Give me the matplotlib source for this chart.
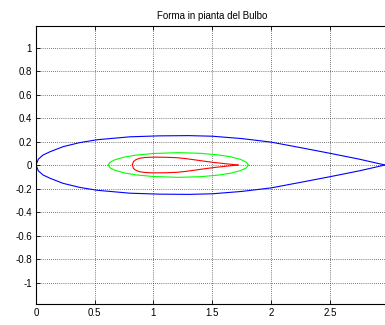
import matplotlib
matplotlib.use("Agg")
import matplotlib.pyplot as plt

# contorno esterno del bulbo (blu), meta' superiore / inferiore
blu_x = [0.0, 0.02, 0.06, 0.12, 0.23, 0.37, 0.52, 0.80, 1.05, 1.30, 1.50, 1.75, 2.00, 2.25, 2.50, 2.75, 2.97]
blu_sup = [0.0, 0.05, 0.085, 0.113, 0.156, 0.19, 0.215, 0.24, 0.248, 0.25, 0.245, 0.225, 0.195, 0.148, 0.10, 0.05, 0.0]
blu_inf = [-v for v in blu_sup]

# sezione intermedia (verde)
verde_x = [0.615, 0.63, 0.67, 0.75, 0.85, 1.00, 1.21, 1.40, 1.55, 1.65, 1.74, 1.79, 1.807]
verde_sup = [0.0, 0.024, 0.044, 0.067, 0.084, 0.098, 0.105, 0.0995, 0.086, 0.071, 0.048, 0.024, 0.0]
verde_inf = [-v for v in verde_sup]

# sezione interna (rosso)
rosso_x = [0.82, 0.83, 0.85, 0.88, 0.93, 1.00, 1.10, 1.20, 1.27, 1.35, 1.45, 1.52, 1.62, 1.72]
rosso_sup = [0.0, 0.03, 0.045, 0.057, 0.064, 0.067, 0.066, 0.062, 0.055, 0.044, 0.030, 0.021, 0.010, 0.0]
rosso_inf = [-v for v in rosso_sup]

x_ticks = [0, 0.5, 1, 1.5, 2, 2.5, 3]
x_labels = ["0", "0.5", "1", "1.5", "2", "2.5", ""]  # il "3" cade fuori dalla figura
y_ticks = [-1, -0.8, -0.6, -0.4, -0.2, 0, 0.2, 0.4, 0.6, 0.8, 1]

plt.rcParams['font.family'] = ['Liberation Sans', 'DejaVu Sans']

fig = plt.figure(figsize=(3.85, 3.25), dpi=100)
ax = fig.add_axes([0.0935, 0.0646, 0.9156, 0.8554])

for xs, sup, inf, col in [(blu_x, blu_sup, blu_inf, "#0000ff"),
                          (verde_x, verde_sup, verde_inf, "#00ff00"),
                          (rosso_x, rosso_sup, rosso_inf, "#ff0000")]:
    ax.plot(xs, sup, c=col, lw=0.8)
    ax.plot(xs, inf, c=col, lw=0.8)

ax.set_xlim(0, 3)
ax.set_ylim(-1.183, 1.183)
ax.set_xticks(x_ticks)
ax.set_xticklabels(x_labels)
ax.set_yticks(y_ticks)
ax.set_yticklabels([f"{v:g}" for v in y_ticks])
ax.tick_params(direction="in", length=3, width=0.6, labelsize=7, pad=3,
               top=True, right=True)
ax.grid(True, linestyle=(0, (1, 2)), color="black", lw=0.5)
for s in ax.spines.values():
    s.set_linewidth(0.8)

ax.set_title("Forma in pianta del Bulbo", fontsize=7, pad=5)

fig.savefig("out.png", dpi=100)
